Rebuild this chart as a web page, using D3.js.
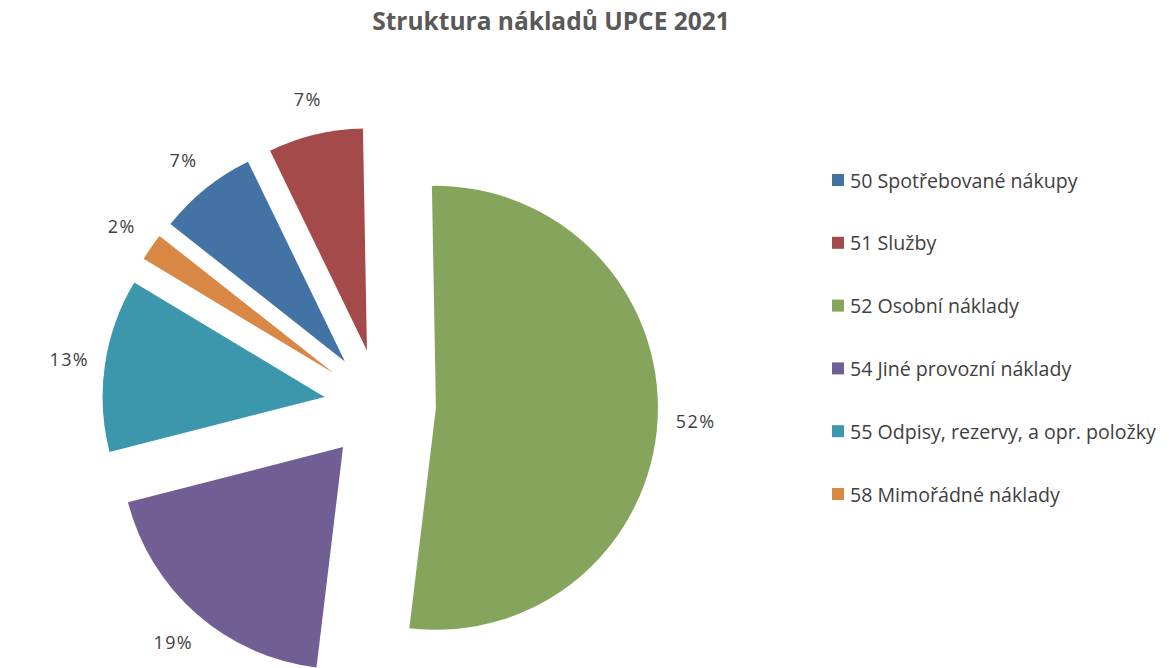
<!DOCTYPE html>
<html lang="cs">
<head>
    <meta charset="utf-8">
    <script type="text/javascript" src="https://cdn.jsdelivr.net/npm/d3@7"></script>
    <style>
        body { margin: 0; background: #fff; }
        text { font-family: "Open Sans", sans-serif; }
    </style>
</head>
<body>
<script type="text/javascript">

    //Data
    let categories = ["50 Spotřebované nákupy", "51 Služby", "52 Osobní náklady",
        "54 Jiné provozní náklady", "55 Odpisy, rezervy, a opr. položky", "58 Mimořádné náklady"];
    let values = [7.2, 6.9, 52.2, 19.1, 12.6, 2.0];
    let colors = ["#4373A5", "#A44A4A", "#86A55C", "#715E95", "#3D97AC", "#D88744"];

    //Width and height
    let w = 1173;
    let h = 668;
    let cx = 380, cy = 405;
    let radius = 222;
    let explode = 56;

    let svg = d3.select("body")
        .append("svg")
        .attr("width", w)
        .attr("height", h);

    //Title
    svg.append("text")
        .attr("x", 551)
        .attr("y", 30)
        .attr("text-anchor", "middle")
        .style("font-size", "24.5px")
        .style("font-weight", "bold")
        .style("fill", "#595959")
        .text("Struktura nákladů UPCE 2021");

    let total = d3.sum(values);
    let start = -51.8 * Math.PI / 180;

    let pie = d3.pie()
        .sort(null)
        .startAngle(start)
        .endAngle(start + 2 * Math.PI);

    let arc = d3.arc()
        .innerRadius(0)
        .outerRadius(radius);

    let slices = pie(values);
    let mid = d => (d.startAngle + d.endAngle) / 2;

    let g = svg.append("g")
        .attr("transform", "translate(" + cx + "," + cy + ")");

    g.selectAll("path")
        .data(slices)
        .enter()
        .append("path")
        .attr("d", arc)
        .attr("transform", d => "translate(" + (Math.sin(mid(d)) * explode) + "," + (-Math.cos(mid(d)) * explode) + ")")
        .style("fill", (d, i) => colors[i]);

    //Percentage labels outside the slices
    let labelR = explode + radius + 37;
    g.selectAll("text.lbl")
        .data(slices)
        .enter()
        .append("text")
        .attr("class", "lbl")
        .attr("x", d => Math.sin(mid(d)) * labelR + 1)
        .attr("y", d => -Math.cos(mid(d)) * labelR)
        .attr("text-anchor", "middle")
        .attr("dominant-baseline", "central")
        .style("font-size", "18px")
        .style("letter-spacing", "1.4px")
        .style("fill", "#404040")
        .text(d => Math.round(d.value / total * 100) + "%");

    //Legend
    let legend = svg.append("g")
        .selectAll("g")
        .data(categories)
        .enter()
        .append("g")
        .attr("transform", (d, i) => "translate(832," + (180 + i * 62.8) + ")");

    legend.append("rect")
        .attr("x", 0)
        .attr("y", -6)
        .attr("width", 12)
        .attr("height", 12)
        .style("fill", (d, i) => colors[i]);

    legend.append("text")
        .attr("x", 18)
        .attr("y", 0)
        .attr("dominant-baseline", "central")
        .style("font-size", "19.6px")
        .style("fill", "#404040")
        .text(d => d);

</script>
</body>
</html>
